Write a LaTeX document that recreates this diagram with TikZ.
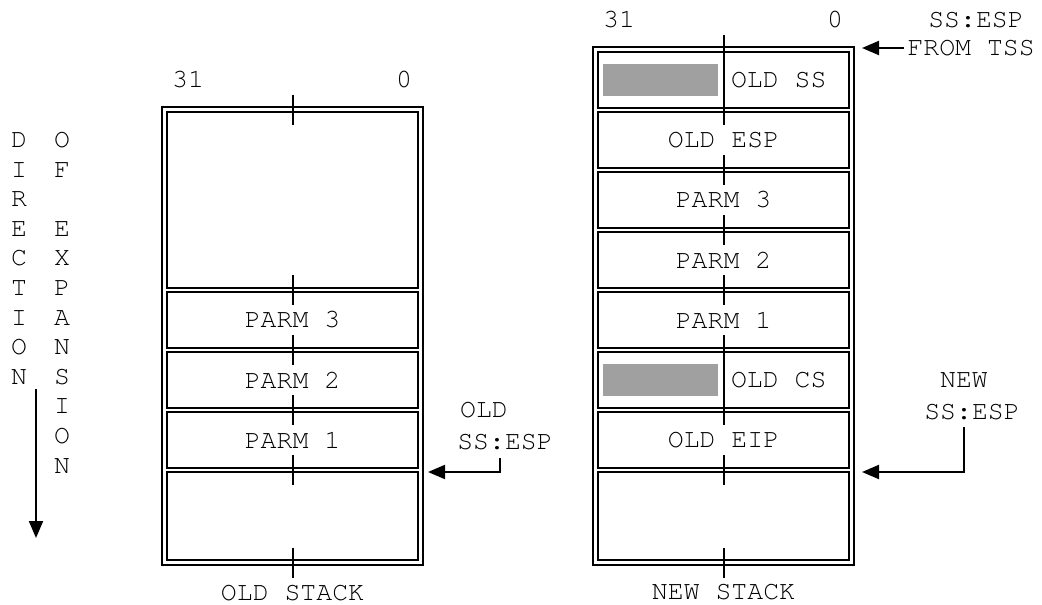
\documentclass[tikz,border=0pt]{standalone}
\usepackage{fontspec}
\setmainfont{texgyrecursor-regular.otf}
\usetikzlibrary{arrows.meta,positioning}
\definecolor{StackLine}{HTML}{000000}
\definecolor{StackShade}{HTML}{A0A0A0}
\tikzset{>={Triangle[length=17pt,width=14pt]},every node/.style={font=\fontsize{26.5}{30}\selectfont},
 cell/.style={draw=StackLine,line width=2pt,minimum width=251pt,minimum height=56pt,
 inner sep=0pt,outer sep=0pt},frame/.style={draw=StackLine,line width=2pt},
 tick/.style={draw=StackLine,line width=2pt},shade/.style={fill=StackShade,draw=none},
 pointer/.style={draw=StackLine,line width=2pt,->}}

\begin{document}
\begin{tikzpicture}[x=1pt,y=-1pt]
\useasboundingbox (0,0) rectangle (1042,605);
% old stack
\draw[frame] (162,107) rectangle (423,565);
\node[cell,minimum height=176pt] (obig) at (292.5,200) {};
\node[cell] (op3) [below=4pt of obig] {PARM 3};
\node[cell] (op2) [below=4pt of op3] {PARM 2};
\node[cell] (op1) [below=4pt of op2] {PARM 1};
\node[cell,minimum height=88pt] (obot) [below=4pt of op1] {};
\foreach \y in {109.5,290,350,410,470,562.5} \draw[tick] (292.5,\y-15) -- (292.5,\y+15);
\node (o31) at (188,80) {31};\node (o0) at (404,80) {0};
\node (oldlbl) at (292.5,593) {OLD STACK};
% new stack
\draw[frame] (593,47) rectangle (854,565);
\node[cell] (nss) at (723.5,80) {};
\node[cell] (nesp) [below=4pt of nss] {OLD ESP};
\node[cell] (np3) [below=4pt of nesp] {PARM 3};
\node[cell] (np2) [below=4pt of np3] {PARM 2};
\node[cell] (np1) [below=4pt of np2] {PARM 1};
\node[cell] (ncs) [below=4pt of np1] {};
\node[cell] (neip) [below=4pt of ncs] {OLD EIP};
\node[cell,minimum height=88pt] (nbot) [below=4pt of neip] {};
\foreach \y in {49.5,110,170,230,290,350,410,470,562.5} \draw[tick] (723.5,\y-15) -- (723.5,\y+15);
\foreach \c in {nss,ncs}{\draw[tick] (\c.north) -- (\c.south);
 \fill[shade] ([xshift=5pt,yshift=-12pt]\c.north west) rectangle ([xshift=-6pt,yshift=12pt]\c.south);}
\node[anchor=west] (nssl) at ([xshift=4pt]nss.center) {OLD SS};
\node[anchor=west] (ncsl) at ([xshift=4pt]ncs.center) {OLD CS};
\node (n31) at (619,20) {31};\node (n0) at (835,20) {0};
\node (newlbl) at (723.5,592) {NEW STACK};
% pointers
\node (tssesp) at (976,20) {SS:ESP};\node[anchor=west] (fromtss) at (904,48) {FROM TSS};
\coordinate (tsstip) at (862,48);\draw[pointer] (fromtss.west) -- (tsstip);
\node (oldold) at (484,410) {OLD};\node (oldesp) at (505,442) {SS:ESP};
\coordinate (oldknee) at (500,458);\coordinate (oldtip) at (428,472);
\draw[pointer] (oldknee) |- (oldtip);
\node (newnew) at (964,380) {NEW};\node (newesp) at (972,412) {SS:ESP};
\coordinate (newknee) at (964,427);\coordinate (newtip) at (862,472);
\draw[pointer] (newknee) |- (newtip);
% direction of expansion
\foreach \c [count=\k from 0] in {D,I,R,E,C,T,I,O,N} \node (da\k) at (19,140+29.6*\k) {\c};
\foreach \c [count=\k from 0] in {O,F} \node (db\k) at (62,140+29.6*\k) {\c};
\foreach \c [count=\k from 3] in {E,X,P,A,N,S,I,O,N} \node (db\k) at (62,140+29.6*\k) {\c};
\coordinate (dirtop) at (36,389);\coordinate (dirend) at (36,538);
\draw[pointer] (dirtop) -- (dirend);
\end{tikzpicture}
\end{document}
